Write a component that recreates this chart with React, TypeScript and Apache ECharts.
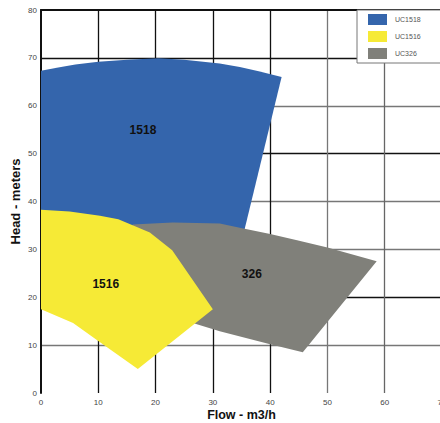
import React, { useEffect, useRef } from "react";
import * as echarts from "echarts";

const xTicks = [0, 10, 20, 30, 40, 50, 60, 70];
const yTicks = [0, 10, 20, 30, 40, 50, 60, 70, 80];

const seriesNames = ["UC1518", "UC1516", "UC326"];
const shapeLabels = ["1518", "1516", "326"];

// UC1518 (blue) outline
const blueX = [0, 3, 6, 10, 15, 20.5, 25, 31.2, 34.7, 38, 42, 35.3, 0];
const blueY = [67.3, 68.0, 68.6, 69.2, 69.6, 69.9, 69.6, 68.8, 68.1, 67.2, 66.0, 33, 33];
const blueLabel = [17.8, 55];

// UC326 (gray) outline
const grayX = [16, 23, 31.2, 34.7, 40, 44.7, 50, 58.6, 45.7, 40, 31.2, 26.5, 20, 16];
const grayY = [35.2, 35.6, 35.4, 34.5, 33.2, 31.9, 30.4, 27.5, 8.5, 10.2, 12.9, 14.6, 16.5, 20];
const grayLabel = [36.8, 24.8];

// UC1516 (yellow) outline
const yellowX = [0, 5, 10.3, 13.5, 16.1, 19, 22.9, 30, 16.9, 10.3, 5.6, 0];
const yellowY = [38.3, 37.9, 37.0, 36.3, 35.0, 33.5, 29.8, 17.5, 5.0, 10.6, 14.6, 17.5];
const yellowLabel = [11.3, 22.7];

const colors = { blue: "#3465ac", yellow: "#f6ea36", gray: "#80807a" };

function polySeries(name: string, xs: number[], ys: number[], lab: number[], text: string, color: string) {
  return {
    type: "custom",
    name,
    itemStyle: { color },
    data: [[xs[0], ys[0]]],
    renderItem: (_p: any, api: any) => {
      const points = xs.map((x, i) => api.coord([x, ys[i]]));
      const lp = api.coord(lab);
      return {
        type: "group",
        children: [
          { type: "polygon", shape: { points }, style: { fill: color } },
          {
            type: "text",
            x: lp[0],
            y: lp[1],
            style: {
              text,
              fill: "#111",
              font: "bold 12px 'Liberation Sans', Arial, sans-serif",
              align: "center",
              verticalAlign: "middle",
            },
          },
        ],
      };
    },
  };
}

export default function App() {
  const ref = useRef<HTMLDivElement>(null);
  useEffect(() => {
    if (!ref.current) return;
    const chart = echarts.init(ref.current, undefined, { renderer: "svg" });
    const font = "'Liberation Sans', Arial, sans-serif";
    chart.setOption({
      animation: false,
      grid: { left: 41, top: 10, width: 401, height: 383, outerBoundsMode: "none", containLabel: false },
      legend: {
        orient: "vertical",
        left: 357,
        top: 10,
        data: seriesNames,
        icon: "rect",
        itemWidth: 19,
        itemHeight: 11,
        itemGap: 6,
        padding: [4, 30, 4, 11],
        backgroundColor: "#fff",
        borderColor: "#777",
        borderWidth: 1,
        textStyle: { fontSize: 7, color: "#555", fontFamily: font, padding: [0, 0, 0, 3] },
      },
      xAxis: [
        {
          type: "value",
          min: 0,
          max: 70,
          interval: 10,
          name: "Flow - m3/h",
          nameLocation: "middle",
          nameGap: 15,
          nameMoveOverlap: false,
          nameTextStyle: { fontSize: 12.5, fontWeight: "bold", color: "#111", fontFamily: font },
          axisLine: { show: false },
          axisTick: { show: false },
          axisLabel: { fontSize: 8, color: "#444", margin: 5, fontFamily: font },
          splitLine: {
            show: true,
            lineStyle: {
              width: 1.3,
              color: ["rgba(0,0,0,0)", "#111", "#111", "#111", "#111", "#777", "#666", "#777"],
            },
          },
        },
        {
          type: "value",
          position: "top",
          min: 0,
          max: 70,
          interval: 10,
          axisLine: { show: true, lineStyle: { color: "#111", width: 2 } },
          axisTick: { show: false },
          axisLabel: { show: false },
          splitLine: { show: false },
        },
      ],
      yAxis: {
        type: "value",
        min: 0,
        max: 80,
        interval: 10,
        name: "Head - meters",
        nameLocation: "middle",
        nameGap: 19,
        nameMoveOverlap: false,
        nameTextStyle: { fontSize: 13, fontWeight: "bold", color: "#111", fontFamily: font },
        axisLine: { show: true, lineStyle: { color: "#111", width: 2 } },
        axisTick: { show: false },
        axisLabel: { fontSize: 8, color: "#444", margin: 4, fontFamily: font },
        splitLine: {
          show: true,
          lineStyle: {
            width: 1.3,
            color: ["rgba(0,0,0,0)", "#777", "#111", "#777", "#777", "#111", "#777", "#111", "rgba(0,0,0,0)"],
          },
        },
      },
      series: [
        polySeries(seriesNames[0], blueX, blueY, blueLabel, shapeLabels[0], colors.blue),
        polySeries(seriesNames[2], grayX, grayY, grayLabel, shapeLabels[2], colors.gray),
        polySeries(seriesNames[1], yellowX, yellowY, yellowLabel, shapeLabels[1], colors.yellow),
      ],
    });
    return () => chart.dispose();
  }, []);
  return <div ref={ref} style={{ position: "fixed", left: 0, top: 0, width: 440, height: 423, background: "#fff" }} />;
}
